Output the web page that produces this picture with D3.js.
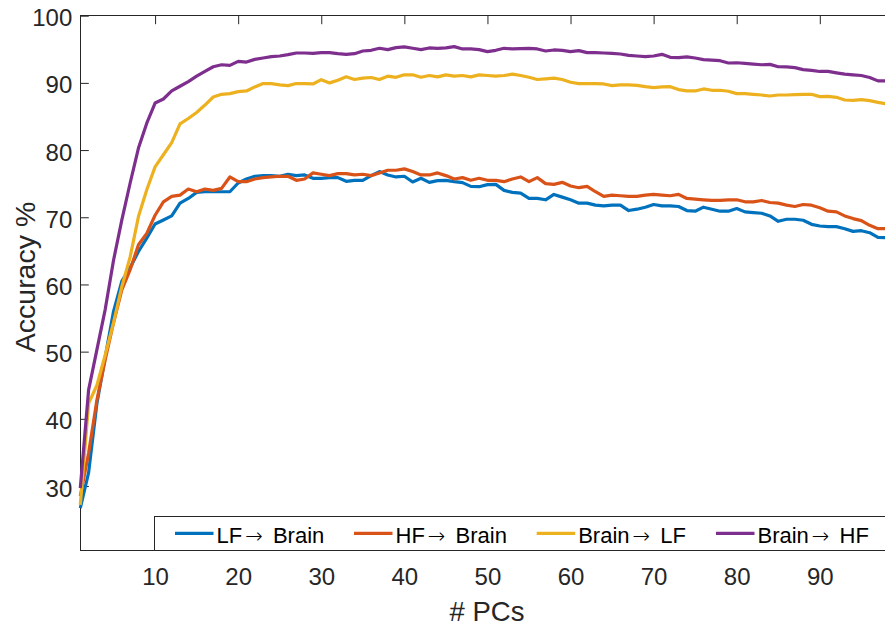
<!DOCTYPE html>
<html>
<head>
<meta charset="utf-8">
<script src="https://cdn.jsdelivr.net/npm/d3@7"></script>
<style>
  html, body { margin: 0; padding: 0; background: #fff; }
  svg { display: block; }
  text { font-family: "Liberation Sans", Arial, Helvetica, sans-serif; }
</style>
</head>
<body>
<svg id="chart" width="885" height="628"></svg>
<script>
// ---- data ----
const numPCs = d3.range(1, 99); // 1..98
const lfToBrain = [26.7,32.0,42.3,49.2,56.0,60.5,62.5,64.9,66.9,69.0,69.6,70.2,72.1,72.8,73.7,73.8,73.8,73.8,73.8,75.1,
  75.7,76.1,76.2,76.2,76.1,76.4,76.2,76.3,75.8,75.8,75.9,75.9,75.35,75.5,75.5,76.2,76.8,76.3,76.0,76.1,
  75.25,75.8,75.2,75.45,75.5,75.3,75.15,74.6,74.55,74.85,74.9,74.0,73.7,73.6,72.8,72.8,72.6,73.4,73.0,72.6,
  72.1,72.1,71.8,71.7,71.8,71.8,71.0,71.2,71.5,71.9,71.7,71.7,71.6,71.0,70.9,71.5,71.2,70.9,70.9,71.3,
  70.8,70.7,70.6,70.2,69.4,69.7,69.7,69.55,68.95,68.7,68.6,68.6,68.3,67.9,68.0,67.7,67.0,66.97];
const hfToBrain = [28.5,34.9,42.8,48.8,54.3,59.2,62.2,65.9,67.6,70.3,72.3,73.1,73.3,74.2,73.8,74.2,74.0,74.3,76.0,75.3,
  75.3,75.7,75.9,76.0,76.1,76.1,75.5,75.7,76.6,76.4,76.2,76.5,76.5,76.3,76.4,76.2,76.6,77.0,77.0,77.2,
  76.8,76.3,76.3,76.6,76.2,75.7,75.9,75.5,75.8,75.5,75.5,75.3,75.7,76.0,75.3,75.9,75.0,74.9,75.2,74.65,
  74.4,74.6,73.8,73.1,73.3,73.2,73.1,73.1,73.3,73.4,73.3,73.2,73.4,72.8,72.7,72.6,72.5,72.5,72.6,72.6,
  72.3,72.3,72.5,72.2,72.1,71.8,71.6,71.9,71.8,71.4,70.9,70.8,70.2,69.8,69.5,68.8,68.3,68.3];
const brainToLF = [27.2,42.3,45.0,49.5,54.3,59.7,64.1,70.1,74.1,77.5,79.3,81.1,83.9,84.7,85.6,86.7,87.9,88.3,88.4,88.7,
  88.8,89.4,89.9,89.9,89.7,89.6,89.9,89.9,89.84,90.48,90.0,90.4,90.9,90.5,90.7,90.8,90.5,91.0,90.83,91.2,
  91.2,90.83,91.1,90.9,91.2,91.0,91.1,90.9,91.2,91.1,91.0,91.1,91.3,91.1,90.83,90.5,90.6,90.7,90.5,90.1,
  89.9,89.9,89.9,89.84,89.6,89.7,89.7,89.64,89.44,89.3,89.4,89.44,89.0,88.8,88.8,89.1,88.9,88.9,88.75,88.4,
  88.4,88.3,88.2,88.05,88.2,88.2,88.25,88.3,88.3,87.95,88.0,87.85,87.45,87.4,87.5,87.36,87.1,86.86];
const brainToHF = [29.7,44.3,50.3,56.3,63.6,69.6,75.1,80.3,84.0,87.0,87.6,88.8,89.5,90.2,91.0,91.7,92.4,92.7,92.6,93.2,
  93.1,93.5,93.7,93.9,94.0,94.2,94.45,94.45,94.4,94.5,94.5,94.35,94.25,94.35,94.75,94.85,95.15,94.95,95.25,95.35,
  95.15,94.95,95.2,95.15,95.2,95.4,95.05,95.05,94.95,94.65,94.85,95.15,95.05,95.1,95.15,95.05,94.75,94.9,94.85,94.65,
  94.8,94.5,94.5,94.45,94.4,94.3,94.1,94.0,93.9,94.0,94.25,93.8,93.76,93.86,93.7,93.46,93.4,93.3,92.96,93.0,
  92.9,92.8,92.7,92.76,92.4,92.37,92.27,91.97,91.87,91.7,91.72,91.5,91.3,91.2,91.1,90.8,90.3,90.3];
const seriesFrom = ["LF", "HF", "Brain", "Brain"];
const seriesTo = ["Brain", "Brain", "LF", "HF"];
const seriesColors = ["#0072BD", "#D95319", "#EDB120", "#7E2F8E"];
const xTicks = [10, 20, 30, 40, 50, 60, 70, 80, 90];
const yTicks = [30, 40, 50, 60, 70, 80, 90, 100];
const xDomain = [1, 99];
const yDomain = [20.43, 100];

(function draw() {
  const svg = d3.select("#chart");
  const mLeft = 80.3, mTop = 15.7, mBottom = 550.3;
  const pxPerUnit = 8.309;
  const mRight = mLeft + (xDomain[1] - xDomain[0]) * pxPerUnit;
  const x = d3.scaleLinear().domain(xDomain).range([mLeft, mRight]);
  const y = d3.scaleLinear().domain(yDomain).range([mBottom, mTop]);
  const axisColor = "#262626";
  const tickLen = 8.5;

  svg.append("rect").attr("x", mLeft).attr("y", mTop)
    .attr("width", mRight - mLeft).attr("height", mBottom - mTop)
    .attr("fill", "none").attr("stroke", axisColor).attr("stroke-width", 1)
    .attr("shape-rendering", "crispEdges");

  const xAxisB = d3.axisBottom(x).tickValues(xTicks).tickSizeInner(-tickLen).tickSizeOuter(0).tickPadding(14);
  const gxb = svg.append("g").attr("transform", `translate(0,${mBottom})`).call(xAxisB);
  const xAxisT = d3.axisTop(x).tickValues(xTicks).tickSizeInner(-tickLen).tickSizeOuter(0).tickFormat("");
  const gxt = svg.append("g").attr("transform", `translate(0,${mTop})`).call(xAxisT);
  const yAxisL = d3.axisLeft(y).tickValues(yTicks).tickSizeInner(-tickLen).tickSizeOuter(0).tickPadding(8);
  const gyl = svg.append("g").attr("transform", `translate(${mLeft},0)`).call(yAxisL);

  [gxb, gxt, gyl].forEach(g => {
    g.select(".domain").remove();
    g.selectAll(".tick line").attr("stroke", axisColor).attr("stroke-width", 1);
    g.selectAll(".tick text").attr("fill", axisColor)
      .style("font-family", "'Liberation Sans', Arial, sans-serif").style("font-size", "24px");
  });
  gxb.selectAll(".tick text").attr("dy", null).attr("y", 35);
  gyl.selectAll(".tick text").attr("dy", "0.42em");

  svg.append("text").attr("x", 487).attr("y", 621)
    .attr("text-anchor", "middle").attr("fill", axisColor)
    .style("font-size", "27.5px").text("# PCs");
  svg.append("text")
    .attr("transform", `translate(35,${(mTop + mBottom) / 2 - 6}) rotate(-90)`)
    .attr("text-anchor", "middle").attr("fill", axisColor)
    .style("font-size", "28.5px").text("Accuracy %");

  const allSeries = [lfToBrain, hfToBrain, brainToLF, brainToHF];
  const line = d3.line().x((d, i) => x(numPCs[i])).y(d => y(d));
  allSeries.forEach((s, k) => {
    svg.append("path").datum(s)
      .attr("d", line)
      .attr("fill", "none")
      .attr("stroke", seriesColors[k])
      .attr("stroke-width", 3.2)
      .attr("stroke-linejoin", "round");
  });

  const legLeft = 154, legTop = 516.7;
  svg.append("rect").attr("x", legLeft).attr("y", legTop)
    .attr("width", mRight - legLeft).attr("height", mBottom - legTop)
    .attr("fill", "#fff").attr("stroke", axisColor).attr("stroke-width", 1)
    .attr("shape-rendering", "crispEdges");
  const legLineStarts = [175, 354, 536.7, 716];
  const legY = 533.3;
  seriesFrom.forEach((from, k) => {
    svg.append("line")
      .attr("x1", legLineStarts[k]).attr("x2", legLineStarts[k] + 38.5)
      .attr("y1", legY).attr("y2", legY)
      .attr("stroke", seriesColors[k]).attr("stroke-width", 3.2);
    const t = svg.append("text")
      .attr("x", legLineStarts[k] + 41.5).attr("y", 543.3)
      .attr("fill", "#000").style("font-size", "22px");
    t.append("tspan").text(from);
    t.append("tspan").attr("dx", 3).style("font-family", "'DejaVu Sans', sans-serif")
      .style("font-weight", "200").style("font-size", "21px").text("\u2192");
    t.append("tspan").attr("dx", 4).text(" " + seriesTo[k]);
  });
})();
</script>
</body>
</html>
